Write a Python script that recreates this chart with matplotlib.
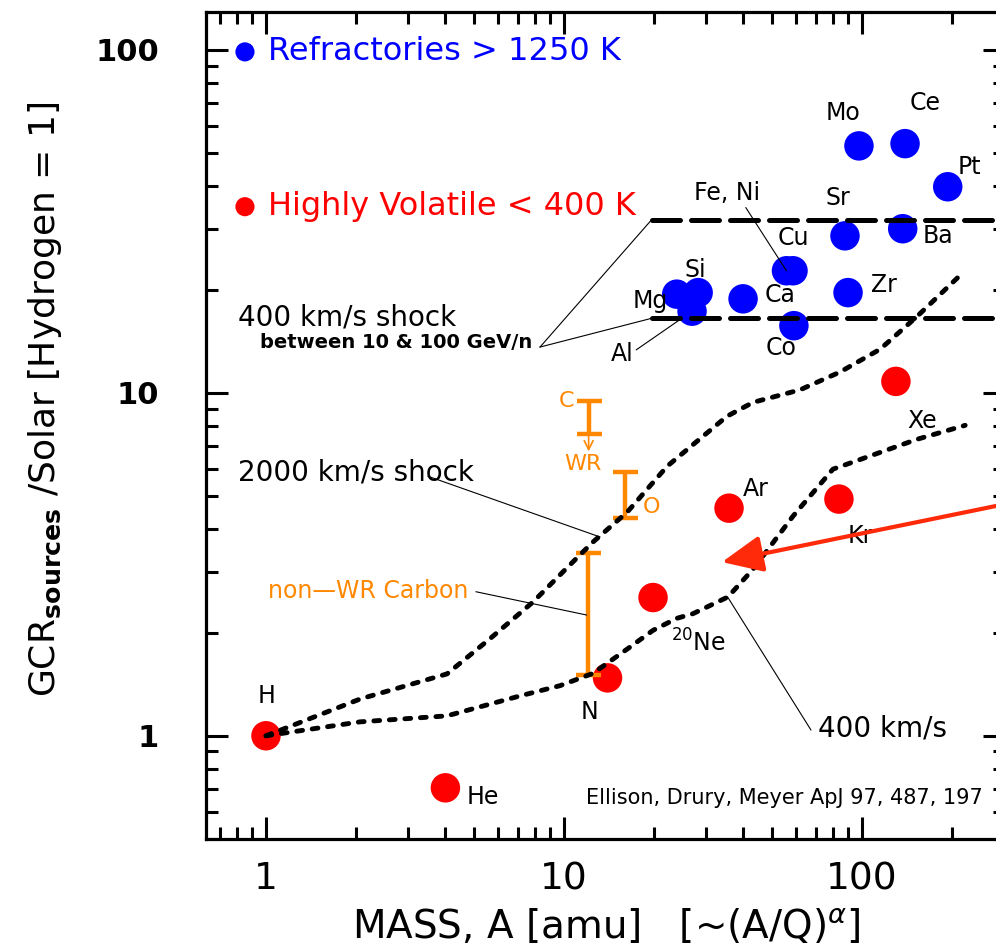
import numpy as np
import matplotlib
matplotlib.use('Agg')
import matplotlib.pyplot as plt
from matplotlib.ticker import NullFormatter, LogLocator

# refractory elements (blue, > 1250 K)
refr_names = ['Mg', 'Al', 'Si', 'Ca', 'Fe', 'Ni', 'Co', 'Sr', 'Zr', 'Mo', 'Ba', 'Ce', 'Pt']
refr_mass = [23.9, 26.9, 28.2, 39.9, 55.8, 58.7, 59.1, 87.7, 89.8, 97.7, 137.0, 139.5, 194.0]
refr_ratio = [19.4, 17.3, 19.6, 18.8, 22.7, 22.7, 15.7, 28.7, 19.6, 52.5, 30.1, 53.3, 39.9]

# highly volatile elements (red, < 400 K)
vol_names = ['H', 'He', 'N', 'Ne', 'Ar', 'Kr', 'Xe']
vol_mass = [1.0, 4.0, 14.0, 19.9, 35.8, 83.7, 130.0]
vol_ratio = [1.0, 0.705, 1.475, 2.53, 4.61, 4.90, 10.8]

# shock model curves
shock2000_mass = [1.0, 2.07, 4.05, 5.65, 7.87, 10.7, 12.5, 16.3, 22.2, 35.2, 43.1, 61.9, 84.4, 115, 153, 218]
shock2000_ratio = [1.0, 1.28, 1.515, 1.92, 2.455, 3.21, 3.67, 4.49, 6.11, 8.54, 9.38, 10.2, 11.5, 13.4, 16.7, 22.4]
shock400_mass = [1.0, 2.07, 4.05, 7.12, 9.7, 12.5, 16.3, 19.9, 23.9, 27.1, 35.5, 43.1, 58.7, 79.9, 153, 222]
shock400_ratio = [1.0, 1.098, 1.143, 1.307, 1.40, 1.52, 1.79, 2.03, 2.20, 2.27, 2.54, 3.06, 4.37, 5.99, 7.32, 8.04]

# 400 km/s shock between 10 & 100 GeV/n (horizontal dashed levels)
gev_levels = [32.0, 16.5]
gev_start = 19.7

# carbon / oxygen ranges (orange bars)
bar_labels = ['C', 'O', 'non-WR Carbon']
bar_mass = [12.1, 16.0, 12.0]
bar_low = [7.57, 4.33, 1.508]
bar_high = [9.46, 5.86, 3.41]

blue = '#0000ff'
red = '#ff0000'
orange = '#ff8800'

fig = plt.figure(figsize=(9.96, 9.51), dpi=100)
ax = fig.add_axes([206/996, 112/951, 799/996, 827/951])
ax.set_xscale('log')
ax.set_yscale('log')
ax.set_xlim(0.629, 302)
ax.set_ylim(0.5, 129)

# points
ax.scatter(refr_mass, refr_ratio, s=450, color=blue, edgecolors='none', zorder=2)
ax.scatter(vol_mass, vol_ratio, s=450, color=red, edgecolors='none', zorder=2)

# orange bars
bmid = np.sqrt(np.array(bar_low) * np.array(bar_high))
ax.errorbar(bar_mass, bmid, yerr=[bmid - np.array(bar_low), np.array(bar_high) - bmid],
            fmt='none', ecolor=orange, elinewidth=3.2, capsize=9, capthick=3.2, zorder=3)
# WR arrow below carbon
ax.annotate('', xy=(bar_mass[0], 6.75), xytext=(bar_mass[0], bar_low[0]),
            arrowprops=dict(arrowstyle='->', color=orange, lw=1.2, mutation_scale=16,
                            shrinkA=0, shrinkB=0), zorder=3)

# dotted curves
for m, r in [(shock2000_mass, shock2000_ratio), (shock400_mass, shock400_ratio)]:
    ax.plot(m, r, color='black', lw=3.5, linestyle=(0, (1.2, 2.0)),
            dash_capstyle='round', zorder=4)

# dashed levels
for lev in gev_levels:
    ax.plot([gev_start, 400], [lev, lev], color='black', lw=3.6,
            linestyle=(0, (5.6, 2.2)), dash_capstyle='round', zorder=4)

# element labels (offset in pixels from the point)
refr_off = {'Mg': (-26, -7), 'Si': (-3, 23), 'Ca': (37, 4), 'Co': (-13, -22),
            'Sr': (-7, 38), 'Zr': (36, 8), 'Mo': (-16, 33), 'Ba': (35, -7),
            'Ce': (20, 41), 'Pt': (22, 20)}
for n, m, r in zip(refr_names, refr_mass, refr_ratio):
    if n in refr_off:
        ax.annotate(n, (m, r), xytext=refr_off[n], textcoords='offset pixels',
                    ha='center', va='center', fontsize=17, zorder=6)
vol_off = {'H': (1, 40), 'He': (37, -9), 'N': (-18, -34), 'Ne': (45, -45),
           'Ar': (27, 19), 'Kr': (21, -37), 'Xe': (26, -40)}
for n, m, r in zip(vol_names, vol_mass, vol_ratio):
    lab = r'$^{20}$Ne' if n == 'Ne' else n
    ax.annotate(lab, (m, r), xytext=vol_off[n], textcoords='offset pixels',
                ha='center', va='center', fontsize=17, zorder=6)

ax.annotate('Cu', (refr_mass[5], refr_ratio[5]), xytext=(0, 33), textcoords='offset pixels',
            ha='center', va='center', fontsize=17, zorder=6)
ax.annotate('Fe, Ni', (refr_mass[4], refr_ratio[4]), xytext=(-59, 78), textcoords='offset pixels',
            ha='center', va='center', fontsize=17, zorder=6,
            arrowprops=dict(arrowstyle='-', color='black', lw=0.8, relpos=(0.75, 0.0),
                            shrinkA=0, shrinkB=0))
ax.annotate('Al', (refr_mass[1], refr_ratio[1]), xytext=(-70, -43), textcoords='offset pixels',
            ha='center', va='center', fontsize=17, zorder=6,
            arrowprops=dict(arrowstyle='-', color='black', lw=0.8, relpos=(1.0, 0.6),
                            shrinkA=0, shrinkB=12))

# shock texts and leaders
ax.text(0.805, 16.6, '400 km/s shock', fontsize=20, va='center', ha='left', zorder=6)
ax.text(0.955, 14.0, 'between 10 & 100 GeV/n', fontsize=14, fontweight='bold',
        va='center', ha='left', zorder=6)
ax.plot([8.31, gev_start], [13.6, gev_levels[0]], color='black', lw=0.8, zorder=5)
ax.plot([8.31, gev_start], [13.6, gev_levels[1]], color='black', lw=0.8, zorder=5)

ax.text(0.805, 5.87, '2000 km/s shock', fontsize=20, va='center', ha='left', zorder=6)
ax.plot([3.50, 13.2], [5.71, 3.80], color='black', lw=0.8, zorder=5)

ax.text(71.2, 1.048, '400 km/s', fontsize=20, va='center', ha='left', zorder=6)
ax.plot([67.4, 35.4], [1.04, 2.54], color='black', lw=0.8, zorder=5)

ax.text(1.015, 2.64, 'non\u2014WR Carbon', fontsize=17, color=orange, va='center', ha='left', zorder=6)
ax.plot([5.07, 11.9], [2.63, 2.25], color='black', lw=0.8, zorder=5)

ax.text(10.8, 9.45, 'C', fontsize=16, color=orange, va='center', ha='right', zorder=6)
ax.text(11.6, 6.19, 'WR', fontsize=16, color=orange, va='center', ha='center', zorder=6)
ax.text(19.6, 4.64, 'O', fontsize=16, color=orange, va='center', ha='center', zorder=6)

# legend entries
ax.scatter([0.85], [98.7], s=190, color=blue, edgecolors='none', zorder=6)
ax.text(1.015, 98.7, 'Refractories > 1250 K', fontsize=23, color=blue, va='center', ha='left')
ax.scatter([0.85], [34.9], s=190, color=red, edgecolors='none', zorder=6)
ax.text(1.015, 34.9, 'Highly Volatile < 400 K', fontsize=23, color=red, va='center', ha='left')

ax.text(255, 0.66, 'Ellison, Drury, Meyer ApJ 97, 487, 197', fontsize=15,
        va='center', ha='right', zorder=6)

# red arrow coming from the right
ax.annotate('', xy=(33.9, 3.21), xytext=(314, 4.77), annotation_clip=False,
            arrowprops=dict(arrowstyle='-|>,head_length=1.0,head_width=0.45',
                            color='#ff2a0a', lw=3.0, mutation_scale=25,
                            shrinkA=0, shrinkB=0), zorder=7)

# axes styling
for sp in ax.spines.values():
    sp.set_linewidth(2.3)
ax.set_xticks([1, 10, 100])
ax.set_xticklabels(['1', '10', '100'])
ax.set_yticks([1, 10, 100])
ax.set_yticklabels(['1', '10', '100'])
ax.xaxis.set_minor_locator(LogLocator(base=10, subs=np.arange(2, 10)))
ax.yaxis.set_minor_locator(LogLocator(base=10, subs=np.arange(2, 10)))
ax.xaxis.set_minor_formatter(NullFormatter())
ax.yaxis.set_minor_formatter(NullFormatter())
ax.tick_params(which='both', direction='in', top=True, right=True, width=2.2)
ax.tick_params(which='major', length=16)
ax.tick_params(which='minor', length=8.5)
ax.tick_params(axis='x', which='major', labelsize=27, pad=16)
ax.tick_params(axis='y', which='major', labelsize=22, pad=34)
for t in ax.get_yticklabels():
    t.set_fontweight('bold')

fig.text(606/996, 1 - 927/951, r'MASS, A [amu]   [~(A/Q)$^{\alpha}$]', fontsize=28,
         ha='center', va='center')
fig.text(45/996, 1 - 399/951, r'GCR$_{\mathbf{sources}}$ /Solar [Hydrogen = 1]', fontsize=26,
         ha='center', va='center', rotation=90)

fig.savefig('out.png', dpi=100)
